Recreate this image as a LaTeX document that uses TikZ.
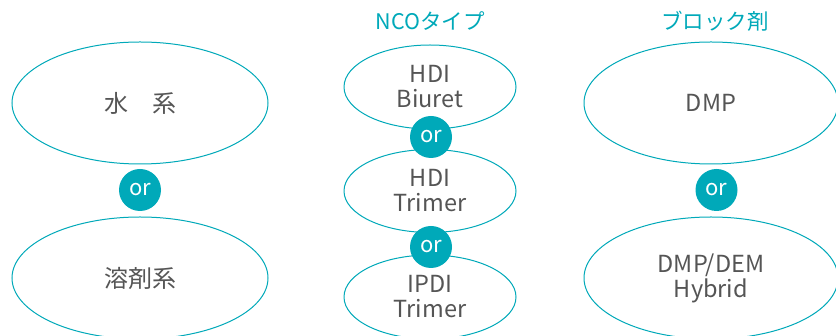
\documentclass[tikz,border=0pt]{standalone}
\usepackage{fontspec}
\setmainfont{Noto Sans CJK JP}
\usetikzlibrary{shapes.geometric}
\definecolor{teal1}{HTML}{00A9B9}
\definecolor{txt}{HTML}{555555}
\tikzset{
  oval/.style={draw=teal1, line width=1pt, ellipse, fill=white, inner sep=0pt, text=txt, font=\fontsize{23.5}{28}\selectfont, align=center},
  orc/.style={circle, fill=teal1, minimum size=42pt, inner sep=0pt, text=white, font=\fontsize{22}{24}\selectfont},
  ttl/.style={text=teal1, font=\fontsize{21.5}{24}\selectfont}
}
\begin{document}
\begin{tikzpicture}[x=1pt,y=-1pt]
\useasboundingbox (0,0) rectangle (836,336);
\clip (0,0) rectangle (836,336);
% left column
\node[oval, minimum width=256pt, minimum height=122pt] (w) at (140,103) {\fontsize{24}{28}\selectfont 水\quad 系};
\node[oval, minimum width=256pt, minimum height=122pt] (s) at (140,278) {\fontsize{24}{28}\selectfont 溶剤系};
\node[orc] (o1) at (140,190) {or};
% middle column
\node[ttl] (t1) at (430,21) {NCOタイプ};
\node[oval, minimum width=172pt, minimum height=84pt] (m1) at (430,87) {HDI\\[-3pt]Biuret};
\node[oval, minimum width=172pt, minimum height=83pt] (m2) at (430,191) {HDI\\[-3pt]Trimer};
\node[oval, minimum width=172pt, minimum height=84pt] (m3) at (430,297) {IPDI\\[-3pt]Trimer};
\node[orc] (o2) at (431,137) {or};
\node[orc] (o3) at (431,247) {or};
% right column
\node[ttl] (t2) at (715,21) {ブロック剤};
\node[oval, minimum width=254pt, minimum height=122pt] (r1) at (711,103) {DMP};
\node[oval, minimum width=254pt, minimum height=122pt] (r2) at (711,278) {DMP/DEM\\[-3pt]Hybrid};
\node[orc] (o4) at (716.5,190) {or};
\end{tikzpicture}
\end{document}
